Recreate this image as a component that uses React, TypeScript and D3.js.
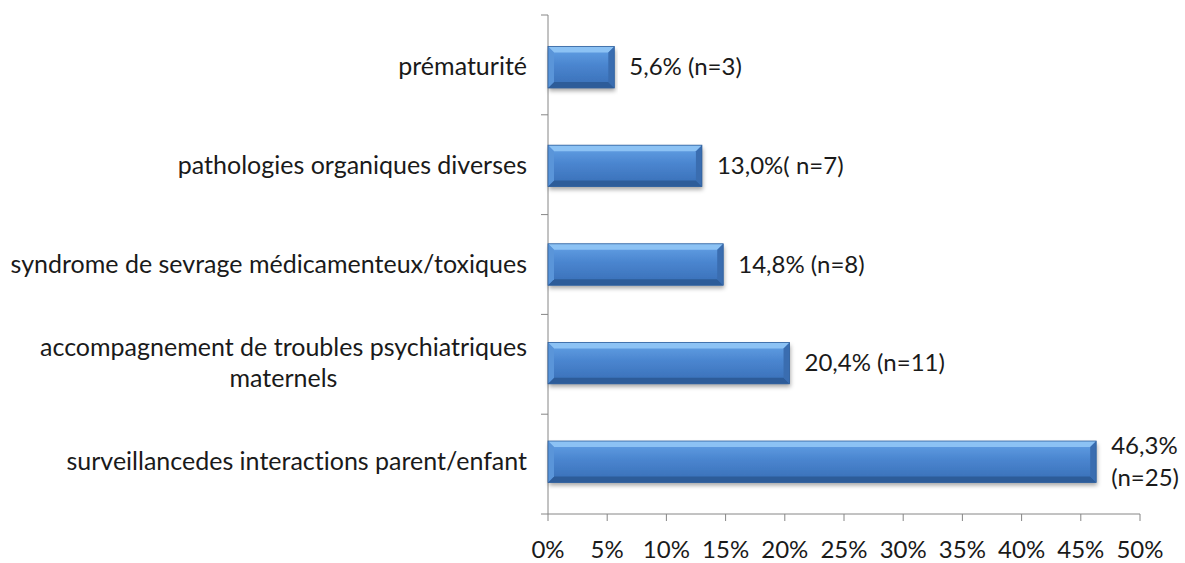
import React, { useEffect, useRef } from "react";
import * as d3 from "d3";

const categories: string[][] = [
  ["prématurité"],
  ["pathologies organiques diverses"],
  ["syndrome de sevrage médicamenteux/toxiques"],
  ["accompagnement de troubles psychiatriques", "maternels"],
  ["surveillancedes interactions parent/enfant"],
];
const values: number[] = [5.6, 13.0, 14.8, 20.4, 46.3];
const valueLabels: string[][] = [
  ["5,6% (n=3)"],
  ["13,0%( n=7)"],
  ["14,8% (n=8)"],
  ["20,4% (n=11)"],
  ["46,3%", "(n=25)"],
];
const xTicks: number[] = [0, 5, 10, 15, 20, 25, 30, 35, 40, 45, 50];

const W = 1185;
const H = 563;
const FONT = "Lato, 'Open Sans', sans-serif";
const FS = 25;

export default function App() {
  const ref = useRef<SVGSVGElement>(null);
  useEffect(() => {
    const svg = d3.select(ref.current);
    svg.selectAll("*").remove();
    const left = 548, right = 1140, top = 15, bottom = 514;
    const x = d3.scaleLinear().domain([0, 50]).range([left, right]);
    const y = d3.scaleBand<number>().domain(d3.range(categories.length)).range([top, bottom]).paddingInner(0.58).paddingOuter(0.32);
    const band = d3.scaleBand<number>().domain(d3.range(categories.length)).range([top, bottom]);

    const defs = svg.append("defs");
    const g1 = defs.append("linearGradient").attr("id", "face").attr("x1", 0).attr("y1", 0).attr("x2", 0).attr("y2", 1);
    g1.append("stop").attr("offset", "0%").attr("stop-color", "#64a2e6");
    g1.append("stop").attr("offset", "45%").attr("stop-color", "#4a85cf");
    g1.append("stop").attr("offset", "100%").attr("stop-color", "#386eb6");
    const f = defs.append("filter").attr("id", "shadow").attr("x", "-5%").attr("y", "-20%").attr("width", "110%").attr("height", "150%");
    f.append("feDropShadow").attr("dx", 1).attr("dy", 3).attr("stdDeviation", 2).attr("flood-color", "#000").attr("flood-opacity", 0.35);

    const axisColor = "#868686";
    svg.append("line").attr("x1", left).attr("x2", left).attr("y1", top).attr("y2", bottom).attr("stroke", axisColor).attr("stroke-width", 1);
    const bounds = [top, ...categories.map((_, i) => (band(i) as number) + band.bandwidth())];
    bounds.forEach((b) => {
      svg.append("line").attr("x1", left - 7).attr("x2", left).attr("y1", b).attr("y2", b).attr("stroke", axisColor);
    });
    svg.append("line").attr("x1", left).attr("x2", right).attr("y1", bottom).attr("y2", bottom).attr("stroke", axisColor);
    xTicks.forEach((t) => {
      svg.append("line").attr("x1", x(t)).attr("x2", x(t)).attr("y1", bottom).attr("y2", bottom + 7).attr("stroke", axisColor);
      svg.append("text").attr("x", x(t)).attr("y", 558).attr("text-anchor", "middle")
        .attr("font-family", FONT).attr("font-size", 24).attr("fill", "#1a1a1a").text(`${t}%`);
    });

    const bv = 6;
    values.forEach((v, i) => {
      const y0 = y(i) as number;
      const h = y.bandwidth();
      const x0 = x(0);
      const x1 = x(v);
      const gb = svg.append("g");
      gb.append("rect").attr("x", x0).attr("y", y0).attr("width", x1 - x0).attr("height", h)
        .attr("fill", "url(#face)").attr("filter", "url(#shadow)");
      gb.append("polygon").attr("points", `${x0},${y0} ${x1},${y0} ${x1 - bv},${y0 + bv} ${x0 + bv},${y0 + bv}`).attr("fill", "#8cc2f4");
      gb.append("polygon").attr("points", `${x0},${y0 + h} ${x1},${y0 + h} ${x1 - bv},${y0 + h - bv} ${x0 + bv},${y0 + h - bv}`).attr("fill", "#2d5c99");
      gb.append("polygon").attr("points", `${x1},${y0} ${x1},${y0 + h} ${x1 - bv},${y0 + h - bv} ${x1 - bv},${y0 + bv}`).attr("fill", "#3a6db0");
      gb.append("polygon").attr("points", `${x0},${y0} ${x0},${y0 + h} ${x0 + bv},${y0 + h - bv} ${x0 + bv},${y0 + bv}`).attr("fill", "#5a95d9");
      gb.append("rect").attr("x", x0).attr("y", y0).attr("width", x1 - x0).attr("height", h)
        .attr("fill", "none").attr("stroke", "#2f5f9c").attr("stroke-width", 0.8);

      const lines = valueLabels[i];
      const cy = y0 + h / 2;
      const lh = 32;
      lines.forEach((ln, k) => {
        svg.append("text").attr("x", x1 + 15).attr("y", cy + (k - (lines.length - 1) / 2) * lh + 8)
          .attr("font-family", FONT).attr("font-size", 24).attr("fill", "#1a1a1a")
          .style("font-variant-ligatures", "none").text(ln);
      });

      const cl = categories[i];
      const gt = svg.append("g");
      const texts = cl.map((ln, k) =>
        gt.append("text").attr("y", cy + (k - (cl.length - 1) / 2) * 31 + 8)
          .attr("font-family", FONT).attr("font-size", FS).attr("fill", "#1a1a1a").attr("text-anchor", "middle")
          .style("font-variant-ligatures", "none").text(ln)
      );
      const widths = texts.map((t) => (t.node() as SVGTextElement).getComputedTextLength());
      const maxW = Math.max(...widths);
      const cx = 527 - maxW / 2;
      texts.forEach((t) => t.attr("x", cx));
    });
  }, []);
  return <svg ref={ref} width={W} height={H} style={{ position: "absolute", left: 0, top: 0, background: "#fff" }} />;
}
